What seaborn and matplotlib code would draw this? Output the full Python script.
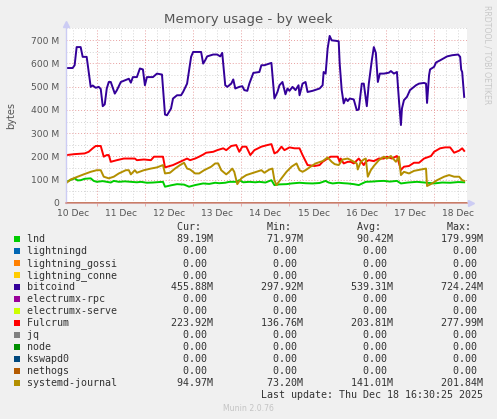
import numpy as np
import pandas as pd
import matplotlib
matplotlib.use('Agg')
import matplotlib.pyplot as plt
from matplotlib.patches import Rectangle
import seaborn as sns

# hours since 10 Dec 00:00, values in MB
lnd_h = [9, 11, 13, 14.5, 16, 18, 21, 22.5, 24, 27, 29, 31, 32.5, 35, 38, 41, 44, 46, 49, 52, 55, 57,
         58, 61, 64, 67.5, 70, 73, 77, 80, 83, 85, 88, 90, 93.5, 95, 97, 100, 103, 105, 108, 111,
         112.5, 115, 118.5, 121, 125, 128, 131.5, 135, 138, 139.5, 141.5, 144.5, 147, 149, 152,
         154.5, 158, 161, 164, 167, 170, 173.5, 175.5, 179, 183.5, 186, 188.5, 192, 196, 200, 204, 207]
lnd_v = [91, 99, 106, 97, 98, 104, 106, 95, 91, 94, 91, 88, 95, 91, 93, 91, 89, 91, 87, 88, 90, 91,
         70, 76, 81, 79, 70, 77, 84, 82, 87, 85, 87, 91, 91, 98, 89, 91, 89, 91, 88, 98,
         77, 80, 81, 84, 87, 85, 84, 86, 95, 88, 84, 87, 85, 84, 81,
         77, 91, 92, 94, 95, 92, 95, 84, 88, 91, 89, 87, 84, 88, 87, 90, 89]

bitcoind_h = [9, 12, 13, 14, 16, 17, 19, 21, 22, 23.5, 25, 26, 27, 28, 29, 30, 31, 33, 34, 36, 38, 40,
              41, 42, 44, 45.5, 47, 48, 49, 52, 54, 56.5, 58, 59, 61, 62, 64, 66, 67, 69, 70, 71,
              72, 76, 77, 78, 79, 82, 84, 85.5, 86.5, 88, 89, 91, 92, 93, 95, 96.5, 97.5, 99, 100,
              102, 105, 106, 107.5, 110, 111, 112.5, 114, 115, 116.5, 118, 119, 120, 121.5, 123,
              124.5, 125, 126.5, 128, 129, 131.5, 135, 136.5, 137, 138, 139, 140, 141, 143, 144.5,
              145, 146, 147, 148, 149, 150, 152, 153.5, 154.5, 156, 157, 158.5, 159.5, 161, 162,
              163, 164, 165, 167, 169.5, 170.5, 172, 173.5, 174.5, 175.5, 176, 177, 178.5, 180,
              183, 184.5, 187, 188, 188.5, 189.5, 190, 192, 193, 195, 198.5, 201, 204, 205, 205.5,
              206, 207]
bitcoind_v = [580, 580, 592, 670, 670, 628, 628, 499, 505, 495, 499, 490, 416, 424, 492, 520, 520,
              470, 484, 520, 527, 534, 517, 541, 541, 578, 574, 506, 541, 541, 556, 552, 380, 377,
              406, 449, 463, 463, 477, 513, 570, 628, 649, 649, 599, 613, 630, 638, 638, 630, 645,
              506, 499, 513, 531, 492, 499, 502, 485, 482, 513, 559, 563, 592, 592, 599, 602, 449,
              477, 506, 520, 467, 492, 482, 499, 485, 506, 463, 513, 520, 477, 482, 492, 506, 563,
              556, 664, 718, 699, 697, 695, 599, 485, 428, 449, 438, 449, 445, 399, 402, 513, 513,
              416, 513, 613, 670, 645, 520, 556, 556, 560, 567, 556, 563, 442, 335, 406, 442, 456,
              485, 506, 513, 516, 513, 430, 549, 574, 585, 604, 613, 630, 635, 638, 628, 573, 563,
              456]

fulcrum_h = [9, 13, 18, 20, 22, 23.5, 26, 27.5, 29, 30, 31, 34, 37.5, 43, 44, 47.5, 51, 52.5, 57,
             58, 62, 65.5, 69, 70.5, 73, 75, 77, 78.5, 82, 84, 87, 88.5, 91, 93.5, 95, 96.5, 98.5,
             100.5, 102.5, 106, 109, 111, 112.5, 114, 116, 117.5, 120, 122.5, 125, 126.5, 129,
             132.5, 135, 136.5, 139, 140.5, 142.5, 144, 145, 145.5, 147, 149, 150.5, 152, 154.5,
             157, 158, 159.5, 162, 164.5, 167, 168.5, 171, 173.5, 175.5, 177, 179.5, 182, 184.5,
             187, 190.5, 192, 195, 197.5, 200, 202, 204.5, 206, 207]
fulcrum_v = [206, 210, 213, 220, 235, 245, 245, 199, 206, 206, 177, 184, 191, 191, 184, 187, 184,
             199, 199, 153, 163, 177, 191, 184, 191, 199, 208, 216, 220, 227, 235, 227, 245, 249,
             220, 242, 242, 206, 227, 242, 249, 253, 213, 220, 242, 227, 239, 235, 235, 206, 163,
             159, 163, 177, 191, 199, 199, 199, 177, 191, 170, 177, 177, 170, 191, 163, 177, 184,
             180, 191, 191, 199, 191, 202, 142, 156, 159, 173, 173, 191, 202, 220, 235, 239, 239,
             216, 225, 235, 224]

journal_h = [9, 11, 14.5, 17.5, 21, 24, 26, 27.5, 30, 32.5, 35, 38.5, 40, 41, 43, 44, 47.5, 51, 54,
             57, 58, 60.5, 63, 65.5, 67.5, 69, 70.5, 73, 75, 77.5, 81, 83, 84.5, 86, 88.5, 90, 91.5,
             92.5, 94, 96, 98.5, 101, 103.5, 106, 107.5, 110, 111.5, 112.5, 113.5, 116, 118.5, 121,
             123.5, 125, 126.5, 128, 130.5, 133, 136.5, 139, 141, 142.5, 144.5, 146.5, 149, 151.5,
             153.5, 154, 155.5, 157, 158, 159, 160.5, 162, 164.5, 167, 168.5, 170.5, 173, 174.5,
             175.5, 177, 179.5, 182, 185.5, 188, 188.5, 191, 193.5, 197, 199.5, 202, 204.5, 206, 207]
journal_v = [87, 101, 113, 123, 134, 141, 141, 113, 106, 113, 127, 141, 141, 123, 141, 130, 141,
             148, 153, 163, 127, 130, 148, 163, 173, 148, 144, 127, 127, 141, 156, 170, 170, 141,
             123, 134, 148, 134, 81, 106, 120, 127, 134, 141, 130, 144, 148, 98, 77, 106, 134, 156,
             170, 141, 134, 141, 156, 170, 180, 196, 177, 167, 163, 187, 191, 180, 170, 144, 177,
             187, 191, 113, 141, 159, 184, 199, 191, 202, 177, 199, 120, 134, 127, 138, 144, 148,
             73, 84, 98, 113, 120, 113, 113, 98, 95]

names = ['lnd', 'lightningd', 'lightning_gossi', 'lightning_conne', 'bitcoind', 'electrumx-rpc',
         'electrumx-serve', 'Fulcrum', 'jq', 'node', 'kswapd0', 'nethogs', 'systemd-journal']
colors = ['#00CC00', '#0066B3', '#FF8000', '#FFCC00', '#330099', '#990099', '#CCFF00', '#FF0000',
          '#808080', '#008F00', '#00487D', '#B35A00', '#B38F00']
cur = ['89.19M', '0.00', '0.00', '0.00', '455.88M', '0.00', '0.00', '223.92M', '0.00', '0.00',
       '0.00', '0.00', '94.97M']
mins = ['71.97M', '0.00', '0.00', '0.00', '297.92M', '0.00', '0.00', '136.76M', '0.00', '0.00',
        '0.00', '0.00', '73.20M']
avgs = ['90.42M', '0.00', '0.00', '0.00', '539.31M', '0.00', '0.00', '203.81M', '0.00', '0.00',
        '0.00', '0.00', '141.01M']
maxs = ['179.99M', '0.00', '0.00', '0.00', '724.24M', '0.00', '0.00', '277.99M', '0.00', '0.00',
        '0.00', '0.00', '201.84M']

day_labels = ['10 Dec', '11 Dec', '12 Dec', '13 Dec', '14 Dec', '15 Dec', '16 Dec', '17 Dec', '18 Dec']
y_ticks = [0, 100, 200, 300, 400, 500, 600, 700]
last_update = 'Last update: Thu Dec 18 16:30:25 2025'

# long table for seaborn
series = {'lnd': (lnd_h, lnd_v), 'bitcoind': (bitcoind_h, bitcoind_v),
          'Fulcrum': (fulcrum_h, fulcrum_v), 'systemd-journal': (journal_h, journal_v)}
frames = []
for n in names:
    if n in series:
        h, v = series[n]
    else:
        h, v = [8.7, 208.5], [0, 0]
    frames.append(pd.DataFrame({'hour': h, 'mb': v, 'proc': n}))
df = pd.concat(frames, ignore_index=True)

W, H = 497, 419
fig = plt.figure(figsize=(W / 100, H / 100), dpi=100, facecolor='#F0F0F0')
ax = fig.add_axes([66 / W, 1 - 203 / H, (467 - 66) / W, (203 - 28) / H])
ax.set_facecolor('white')

x0, x1 = 8.7, 208.4
ax.set_xlim(x0, x1)
ax.set_ylim(0, 752)

# grid like rrdtool: gray dotted minor, red dotted major
for hh in np.arange(0, 216, 6):
    if x0 < hh < x1:
        c = '#e8a0a0' if hh % 24 == 0 else '#d4d4d4'
        ax.axvline(hh, color=c, lw=0.7, ls=(0, (1, 2)), zorder=0)
for yy in np.arange(50, 760, 50):
    c = '#e8a0a0' if yy % 100 == 0 else '#d4d4d4'
    ax.axhline(yy, color=c, lw=0.7, ls=(0, (1, 2)), zorder=0)

sns.lineplot(data=df, x='hour', y='mb', hue='proc', hue_order=names,
             palette=dict(zip(names, colors)), linewidth=1.4, legend=False,
             estimator=None, sort=False, ax=ax)
ax.axhline(0, color='#d08a84', lw=1.1, zorder=5, clip_on=False)

for s in ['top', 'right', 'bottom']:
    ax.spines[s].set_visible(False)
ax.spines['left'].set_color('#ccccf4')
ax.spines['left'].set_linewidth(1.0)
ax.plot([0], [1.02], marker='^', color='#ccccf4', ms=4, transform=ax.transAxes, clip_on=False)
ax.plot([1.01], [0], marker='>', color='#ccccf4', ms=4, transform=ax.transAxes, clip_on=False)

ax.set_yticks(y_ticks)
ax.set_yticklabels(['0' if t == 0 else f'{t} M' for t in y_ticks])
ax.set_xticks([12 + 24 * i for i in range(len(day_labels))])
ax.set_xticklabels(day_labels)
ax.tick_params(axis='both', length=0, labelsize=6.6, labelcolor='#555555', pad=5)
ax.tick_params(axis='x', pad=4)
ax.set_xticks([24 * i for i in range(1, 9)], minor=True)
ax.tick_params(axis='x', which='minor', length=2, color='#e8a0a0', direction='out')
ax.set_xlabel('')
ax.set_ylabel('')

fig.text(248 / W, 1 - 20 / H, 'Memory usage - by week', ha='center', va='center',
         fontsize=9.6, color='#555555')
fig.text(11 / W, 1 - 115 / H, 'bytes', rotation=90, ha='center', va='center',
         fontsize=7, color='#555555')
fig.text(487.5 / W, 1 - 5 / H, 'RRDTOOL / TOBI OETIKER', rotation=270, ha='center', va='top',
         fontsize=5.6, color='#c8c8c8')

# legend table, monospace 6 px per character
mono = dict(family='DejaVu Sans Mono', fontsize=7.18, color='#333333')
tx = 26.7 / W
header = ' ' * 25 + 'Cur:' + ' ' * 11 + 'Min:' + ' ' * 11 + 'Avg:' + ' ' * 11 + 'Max:'
fig.text(tx, 1 - 227 / H, header, ha='left', va='center', **mono)

def fmt(v):
    return v if v.endswith('M') else v + ' '

for i, n in enumerate(names):
    yc = 239.3 + 12 * i
    row = f'{n:<16}{fmt(cur[i]):>15}{fmt(mins[i]):>15}{fmt(avgs[i]):>15}{fmt(maxs[i]):>15}'
    fig.text(tx, 1 - yc / H, row, ha='left', va='center', **mono)
    fig.patches.append(Rectangle((14 / W, 1 - (yc + 3) / H), 6 / W, 6 / H,
                                 transform=fig.transFigure, facecolor=colors[i], edgecolor='none'))

fig.text(tx, 1 - 395 / H, last_update.rjust(76), ha='left', va='center', **mono)
fig.text(248 / W, 1 - 408 / H, 'Munin 2.0.76', ha='center', va='center', fontsize=5.6,
         color='#c4c4c4')

fig.savefig('out.png', dpi=100, facecolor=fig.get_facecolor())
